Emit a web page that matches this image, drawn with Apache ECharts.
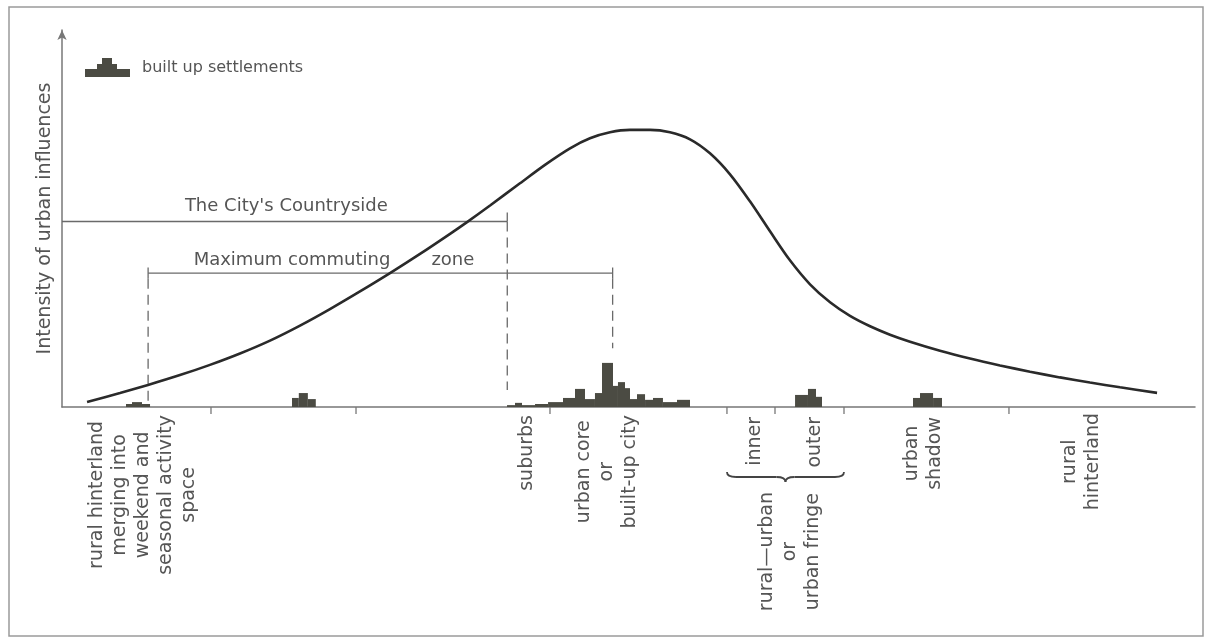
<!DOCTYPE html>
<html><head><meta charset="utf-8">
<script src="https://cdn.jsdelivr.net/npm/echarts@6/dist/echarts.min.js"></script>
<style>html,body{margin:0;padding:0;background:#fff}#c{width:1212px;height:643px}</style>
</head><body><div id="c"></div>
<script>
// ---- data (distance along transect 0-100, intensity 0-100) ----
const curveX = [2.21,5.12,7.59,10.41,13.06,15.71,18.36,21.01,23.65,26.30,28.95,31.60,34.25,35.75,37.78,40.42,42.63,44.84,46.60,48.37,50.13,51.90,53.66,55.43,57.19,58.96,60.72,62.49,64.25,66.02,67.79,69.55,71.32,73.08,74.85,77.49,80.14,82.79,85.44,88.08,90.73,93.38,96.65];
const curveY = [1.33,3.69,5.84,8.46,11.17,14.19,17.61,21.59,25.97,30.66,35.52,40.61,45.94,49.05,53.45,59.34,64.24,68.62,71.27,72.86,73.50,73.50,72.86,71.01,67.29,61.72,54.56,46.60,38.91,32.55,27.77,24.16,21.41,19.18,17.32,14.93,12.86,11.03,9.36,7.85,6.50,5.23,3.74];

const binStart  = [5.65,6.18,7.06, 20.3,20.9,21.7, 39.28,39.98,40.60,41.75,42.90,44.22,45.28,46.16,47.04,47.66,48.63,49.07,49.69,50.13,50.75,51.46,52.16,53.04,54.28, 64.70,65.84,66.55, 75.11,75.73,76.88];
const binEnd    = [6.18,7.06,7.77, 20.9,21.7,22.4, 39.98,40.60,41.75,42.90,44.22,45.28,46.16,47.04,47.66,48.63,49.07,49.69,50.13,50.75,51.46,52.16,53.04,54.28,55.43, 65.84,66.55,67.08, 75.73,76.88,77.67];
const binHeight = [0.8,1.3,0.8, 2.4,3.7,2.1, 0.5,1.1,0.5,0.8,1.3,2.4,4.8,2.1,3.7,11.7,5.6,6.6,5.0,2.1,3.4,1.9,2.4,1.3,1.9, 3.2,4.8,2.7, 2.4,3.7,2.4];

const tickValues = [13.15,25.95,43.07,58.69,62.93,69.02,83.58];

const countrysideFrom = 0, countrysideTo = 39.3, countrysideLevel = 49.2, countrysideDropTo = 4.5;
const commutingFrom = 7.6, commutingTo = 48.6, commutingLevel = 35.5;
const commutingDropLeft = 1.5, commutingDropRight = 15.6;

const annotationTexts = ["The City's Countryside", "Maximum commuting", "zone"];
const annotationX = [19.8, 20.3, 34.5];
const annotationY = [53.1, 39.0, 39.0];

const zoneNames = [
  'rural hinterland\nmerging into\nweekend and\nseasonal activity\nspace',
  'suburbs',
  'urban core\nor\nbuilt-up city',
  'inner',
  'outer',
  'rural\u2014urban\nor\nurban fringe',
  'urban\nshadow',
  'rural\nhinterland'
];
const zoneCenters = [7.15, 41.04, 48.1, 61.17, 66.46, 64.25, 76.08, 90.03];
const fringeFrom = 58.69, fringeTo = 69.02;

const yAxisTitle = 'Intensity of urban influences';
const legendName = 'built up settlements';

// ---- layout / style ----
const FONT = '"DejaVu Sans", Verdana, sans-serif';
const TXT = '#555';
const zoneLabelDrop = [8,8,8,10,10,85,10,6];

const chart = echarts.init(document.getElementById('c'));

const curveData = curveX.map((x,i)=>[x,curveY[i]]);
const binData = binStart.map((s,i)=>[s,binEnd[i],binHeight[i]]);
const solidSegs = [
  [countrysideFrom,countrysideLevel,countrysideTo,countrysideLevel],
  [countrysideTo,countrysideLevel,countrysideTo,countrysideLevel+2.4],
  [commutingFrom,commutingLevel,commutingTo,commutingLevel],
  [commutingFrom,commutingLevel-1.5,commutingFrom,commutingLevel+1.5],
  [commutingTo,commutingLevel-1.5,commutingTo,commutingLevel+1.5]
];
const dashedSegs = [
  [commutingFrom,commutingLevel-1.5,commutingFrom,commutingDropLeft],
  [countrysideTo,countrysideLevel,countrysideTo,countrysideDropTo],
  [commutingTo,commutingLevel-1.5,commutingTo,commutingDropRight]
];
const annData = annotationTexts.map((t,i)=>[annotationX[i],annotationY[i],i]);

function segRender(dashed){
  return function(params, api){
    const a = api.coord([api.value(0),api.value(1)]);
    const b = api.coord([api.value(2),api.value(3)]);
    return {type:'line', shape:{x1:a[0],y1:a[1],x2:b[0],y2:b[1]},
      style:{stroke:'#6a6a6a', lineWidth:1.3, lineDash: dashed?[10,6]:null}};
  };
}

const option = {
  animation:false,
  backgroundColor:'#fff',
  grid:{left:62,right:17,top:30,bottom:236},
  legend:{
    data:[{name:legendName, icon:'path://M0,19 L0,11 L12,11 L12,6 L17,6 L17,0 L27,0 L27,6 L32,6 L32,11 L45,11 L45,19 Z'}],
    left:80, top:53, itemWidth:45, itemHeight:19,
    textStyle:{fontFamily:FONT, fontSize:16, color:TXT, padding:[0,0,0,7]},
    selectedMode:false
  },
  xAxis:{type:'value', min:0, max:100,
    axisLine:{show:true, lineStyle:{color:'#777', width:1.5}},
    axisTick:{show:false}, axisLabel:{show:false}, splitLine:{show:false}},
  yAxis:{type:'value', min:0, max:100,
    name:yAxisTitle, nameLocation:'middle', nameRotate:90, nameGap:7,
    nameTextStyle:{fontFamily:FONT, fontSize:19, color:TXT},
    axisLine:{show:true, symbol:['none','arrow'], symbolSize:[7,10], lineStyle:{color:'#777', width:1.5}},
    axisTick:{show:false}, axisLabel:{show:false}, splitLine:{show:false}},
  series:[
    {type:'custom', name:'ticks', data:tickValues.map(v=>[v]), silent:true,
      renderItem:(p,api)=>{const c=api.coord([api.value(0),0]);
        return {type:'line', shape:{x1:c[0],y1:c[1],x2:c[0],y2:c[1]+7}, style:{stroke:'#777',lineWidth:1.3}};}},
    {type:'custom', name:legendName, data:binData, itemStyle:{color:'#4b4b43'},
      renderItem:(p,api)=>{const a=api.coord([api.value(0),api.value(2)]); const b=api.coord([api.value(1),0]);
        return {type:'rect', shape:{x:a[0],y:a[1],width:b[0]-a[0],height:b[1]-a[1]}, style:{fill:'#4b4b43'}};}},
    {type:'custom', name:'solid', data:solidSegs, renderItem:segRender(false), silent:true},
    {type:'custom', name:'dashed', data:dashedSegs, renderItem:segRender(true), silent:true},
    {type:'custom', name:'annotations', data:annData, silent:true,
      renderItem:(p,api)=>{const c=api.coord([api.value(0),api.value(1)]);
        return {type:'text', x:c[0], y:c[1], style:{text:annotationTexts[api.value(2)], fontFamily:FONT, fontSize:18, fill:TXT, align:'center', verticalAlign:'middle'}};}},
    {type:'line', name:'intensity', data:curveData, smooth:0.3, showSymbol:false, silent:true,
      lineStyle:{color:'#2a2a2a', width:2.6}, z:5}
  ]
};
chart.setOption(option);

// ---- labels below the axis ----
const ctx = document.createElement('canvas').getContext('2d');
function textW(t,size){ctx.font = size+'px "DejaVu Sans"'; return ctx.measureText(t).width;}
const gfx = [];
gfx.push({type:'rect', shape:{x:9,y:7,width:1194,height:629}, style:{fill:null, stroke:'#9a9a9a', lineWidth:1.5}, silent:true});
zoneNames.forEach((name,i)=>{
  const p = chart.convertToPixel({gridIndex:0},[zoneCenters[i],0]);
  const w = Math.max(...name.split('\n').map(l=>textW(l,19)));
  gfx.push({type:'text', x:p[0], y:p[1]+zoneLabelDrop[i]+w/2, rotation:Math.PI/2, silent:true,
    style:{text:name, fontFamily:FONT, fontSize:19, fill:TXT, align:'center', verticalAlign:'middle', lineHeight:23}});
});
const bl = chart.convertToPixel({gridIndex:0},[fringeFrom,0]);
const br = chart.convertToPixel({gridIndex:0},[fringeTo,0]);
const y0 = bl[1]+70, xm = (bl[0]+br[0])/2, xL = bl[0], xR = br[0];
const braceStyle = {fill:null, stroke:'#444', lineWidth:1.8};
gfx.push({type:'bezierCurve', silent:true, shape:{x1:xL,y1:y0-5,cpx1:xL,cpy1:y0,x2:xL+9,y2:y0}, style:braceStyle});
gfx.push({type:'line', silent:true, shape:{x1:xL+9,y1:y0,x2:xm-9,y2:y0}, style:braceStyle});
gfx.push({type:'bezierCurve', silent:true, shape:{x1:xm-9,y1:y0,cpx1:xm,cpy1:y0,x2:xm,y2:y0+5}, style:braceStyle});
gfx.push({type:'bezierCurve', silent:true, shape:{x1:xm,y1:y0+5,cpx1:xm,cpy1:y0,x2:xm+9,y2:y0}, style:braceStyle});
gfx.push({type:'line', silent:true, shape:{x1:xm+9,y1:y0,x2:xR-9,y2:y0}, style:braceStyle});
gfx.push({type:'bezierCurve', silent:true, shape:{x1:xR-9,y1:y0,cpx1:xR,cpy1:y0,x2:xR,y2:y0-5}, style:braceStyle});
chart.setOption({graphic:gfx});
</script></body></html>
